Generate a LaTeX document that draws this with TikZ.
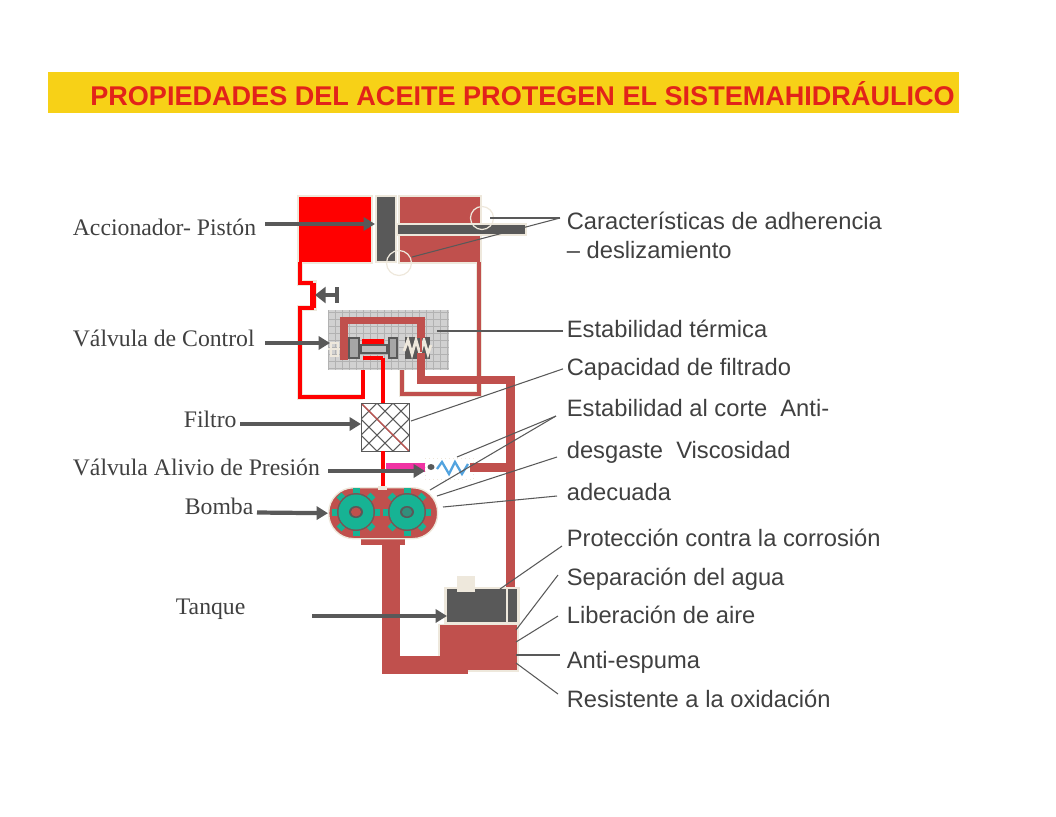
\documentclass[tikz,border=0pt]{standalone}
\usepackage{fontspec}
\setmainfont{Liberation Serif}
\newfontfamily\sansfam{Liberation Sans}
\usetikzlibrary{arrows.meta}
\definecolor{ltitle}{HTML}{E2231A}
\definecolor{lband}{HTML}{F7D117}
\definecolor{lbrown}{HTML}{C0504D}
\definecolor{ldark}{HTML}{595959}
\definecolor{lcream}{HTML}{EEE8DC}
\definecolor{lteal}{HTML}{17B394}
\definecolor{ltext}{HTML}{404040}

\begin{document}
\begin{tikzpicture}[x=0.02cm,y=-0.02cm,
lleft/.style={anchor=base west,inner sep=2pt,font=\fontsize{13.5}{15}\selectfont,text=ltext},
lright/.style={anchor=base west,inner sep=2pt,font=\sansfam\fontsize{13.5}{15}\selectfont,text=ltext},
callout/.style={draw=ldark,line width=2.4pt,-{Triangle[length=6.5pt,width=7.5pt]}},
leader/.style={draw=ldark,line width=.6pt},
pipe/.style={draw=lbrown,line width=#1,line cap=butt,line join=miter},
redpipe/.style={draw=red,line width=#1,line cap=butt,line join=miter},
hull/.style={fill=#1,draw=lcream,line width=1.2pt}]
\useasboundingbox (0,0) rectangle (1056,816);

% title
\node (band) [fill=lband,minimum width=18.22cm,minimum height=.82cm,inner sep=0,anchor=north west] at (48,72) {};
\node (title) [anchor=base west,inner sep=0,font=\sansfam\bfseries\fontsize{15.4}{18}\selectfont,text=ltitle] at (90,105) {PROPIEDADES DEL ACEITE PROTEGEN EL SISTEMAHIDRÁULICO};

% cylinder
\draw [hull=red] (298,196) rectangle (372,263);
\draw [hull=lbrown] (399,196) rectangle (481,263);
\draw [draw=lcream,line width=1.2pt,fill=ldark] (376,196) rectangle (396,262);
\draw [draw=lcream,line width=1.2pt,fill=ldark] (397,224) rectangle (526,235);
\node (circa) [circle,draw=lcream,line width=.7pt,minimum size=.46cm,inner sep=0] at (482,218) {};
\node (circb) [circle,draw=lcream,line width=.7pt,minimum size=.5cm,inner sep=0] at (399,263) {};

% lines round the valve
\draw [draw=lcream,line width=3.2pt] (300,264) -- (300,283) -- (314,283) -- (314,308) -- (300,308) -- (300,397) -- (363,397);
\draw [draw=lcream,line width=3.2pt] (479,263) -- (479,394) -- (402,394) -- (402,350);
\draw [redpipe=2pt] (300,262) -- (300,283) -- (313,283);
\draw [redpipe=3pt] (313,283) -- (313,308);
\draw [redpipe=2pt] (314,308) -- (300,308) -- (300,397) -- (363,397) -- (363,357);
\draw [pipe=2pt] (479,262) -- (479,394) -- (402,394) -- (402,340);

% accumulator stop
\coordinate (stopb) at (338,295);
\coordinate (stopa) at (315,295);
\draw [draw=ldark,line width=2.4pt,-{Triangle[length=6pt,width=9pt]}] (stopb) -- (stopa);
\draw [draw=ldark,line width=2.8pt] (337,287) -- (337,303);

% valve block
\fill [fill=black!18] (328,310) rectangle (449,370);
\foreach \i in {0,...,17} {\draw [black!30,line width=.25pt] (328+\i*7,310) -- (328+\i*7,370);}
\foreach \i in {0,...,8} {\draw [black!30,line width=.25pt] (328,312+\i*7) -- (449,312+\i*7);}
\node (valve) [minimum width=2.42cm,minimum height=1.2cm,inner sep=0,anchor=north west] at (328,310) {};
\fill [fill=ldark] (348,337) rectangle (360,359);
\fill [fill=gray!70] (350,339) rectangle (358,357);
\fill [fill=ldark] (388,337) rectangle (398,359);
\fill [fill=gray!70] (390,339) rectangle (396,357);
\fill [fill=ldark] (360,344) rectangle (388,354);
\fill [fill=gray!50] (362,346) rectangle (386,352);
\fill [fill=ldark] (405,337) rectangle (430,359);
\draw [draw=lcream,line width=1.6pt] (331,343) rectangle (338,356);
\draw [draw=lcream,line width=1.6pt] (328,349) -- (341,349);
\draw [draw=lcream,line width=1.6pt] (404,351) -- (408,340) -- (412,354) -- (416,340) -- (420,354) -- (424,340) -- (428,354) -- (431,345);
\draw [pipe=4.5pt] (344,360) -- (344,320.5) -- (421,320.5) -- (421,338);
\draw [pipe=.7pt] (421,318) -- (421,352);
\fill [fill=red] (362,339) rectangle (384,344);
\draw [redpipe=2pt] (363,358) -- (383,358);
\draw [redpipe=2pt] (383,358) -- (383,404);
\draw [pipe=4.7pt] (421,353) -- (421,380) -- (510.5,380) -- (510.5,600);

% filter
\begin{scope}
\clip (361,403) rectangle (409,451);
\foreach \k in {-2,...,2} {
  \draw [draw=ldark,line width=.6pt] (361+\k*16,403) -- (409+\k*16,451);
  \draw [draw=ldark,line width=.6pt] (409+\k*16,403) -- (361+\k*16,451);
}
\draw [draw=lbrown,line width=.7pt] (361,403) -- (409,451);
\end{scope}
\node (filtro) [draw=ldark,line width=.7pt,minimum size=.96cm,inner sep=0,anchor=north west] at (361,403) {};

% relief valve
\draw [redpipe=2.2pt] (383,451) -- (383,490);
\fill [fill=magenta!80!white] (386,463) rectangle (425,472);
\node (relief) [draw=lcream,line width=.3pt,dotted,minimum width=.96cm,minimum height=.42cm,inner sep=0,anchor=north west] at (425,458) {};
\fill [fill=ldark] (431,467) ellipse (3.5 and 3);
\draw [draw=cyan!70!blue!70,line width=1.3pt] (437,469) -- (442,462) -- (449,474) -- (455,462) -- (462,474) -- (468,464);
\draw [pipe=5pt] (470,467.5) -- (510,467.5);

% pump
\fill [fill=lbrown] (361,535) rectangle (405,545);
\node (pump) [draw=lcream,line width=.8pt,fill=lbrown,rounded corners=.5cm,minimum width=2.18cm,minimum height=1.02cm,inner sep=0,anchor=north west] at (328,487) {};
\fill [fill=lcream] (378,486) rectangle (387,490);
\foreach \cx/\hub in {356/lbrown,407/lteal!60!ldark} {
  \foreach \a in {0,45,...,315} {
    \fill [fill=lteal,rotate around={\a:(\cx,512)}] (\cx-3.5,488) rectangle (\cx+3.5,495);
  }
  \fill [fill=ldark!70!lbrown] (\cx,512) circle (.38cm);
  \fill [fill=lteal] (\cx,512) circle (.35cm);
  \fill [fill=ldark] (\cx,512) ellipse (7 and 6);
  \fill [fill=\hub] (\cx,512) ellipse (5 and 4.5);
}

% return line and tank
\fill [fill=lcream] (444,587) rectangle (520,624);
\fill [fill=lcream] (438,624) rectangle (519,672);
\fill [fill=lbrown] (382,545) rectangle (400,656);
\fill [fill=lbrown] (382,656) rectangle (468,674);
\fill [fill=lbrown] (440,625) rectangle (517,670);
\fill [fill=ldark] (447,589) rectangle (517,622);
\draw [draw=lcream,line width=.7pt] (507,589) -- (507,622);
\fill [fill=lcream] (457,576) rectangle (475,592);
\node (tank) [minimum width=1.4cm,minimum height=.66cm,inner sep=0,anchor=north west] at (447,589) {};

% left labels and their arrows
\node (lblact) [lleft] at (69,235) {Accionador- Pistón};
\node (lblctl) [lleft] at (69,346) {Válvula de Control};
\node (lblfil) [lleft] at (180,427) {Filtro};
\node (lblrel) [lleft] at (69,475) {Válvula Alivio de Presión};
\node (lblpum) [lleft] at (181,514) {Bomba};
\node (lbltan) [lleft] at (172,614) {Tanque};
\coordinate (fromact) at (265,224);
\coordinate (toact) at (375,224);
\coordinate (fromctl) at (265,343);
\coordinate (toctl) at (330,343);
\coordinate (fromfil) at (240,424);
\coordinate (tofil) at (361,424);
\coordinate (fromrel) at (328,471);
\coordinate (torel) at (425,471);
\coordinate (frompum) at (257,512.5);
\coordinate (fromtan) at (312,616);
\coordinate (totan) at (447,616);
\draw [callout] (fromact) -- (toact);
\draw [callout] (fromctl) -- (toctl);
\draw [callout] (fromfil) -- (tofil);
\draw [callout] (fromrel) -- (torel);
\draw [callout] (frompum) -- (pump.west);
\draw [callout] (fromtan) -- (totan);

% right labels
\node (lbladh) [lright] at (563,229) {Características de adherencia};
\node (lbldes) [lright] at (563,258) {– deslizamiento};
\node (lblter) [lright] at (563,337) {Estabilidad térmica};
\node (lblcap) [lright] at (563,375) {Capacidad de filtrado};
\node (lblcor) [lright] at (563,416) {Estabilidad al corte\ \ Anti-};
\node (lblvis) [lright] at (563,458) {desgaste\ \ Viscosidad};
\node (lblade) [lright] at (563,500) {adecuada};
\node (lblpro) [lright] at (563,546) {Protección contra la corrosión};
\node (lblsep) [lright] at (563,585) {Separación del agua};
\node (lbllib) [lright] at (563,623) {Liberación de aire};
\node (lblesp) [lright] at (563,668) {Anti-espuma};
\node (lblres) [lright] at (563,707) {Resistente a la oxidación};

% leaders
\coordinate (hubadh) at (560,218);
\coordinate (hubcor) at (556,416);
\coordinate (hubvis) at (557,457);
\coordinate (hubade) at (557,496);
\coordinate (hubpro) at (562,546);
\coordinate (hubsep) at (558,575);
\coordinate (hublib) at (558,616);
\coordinate (hubesp) at (560,655);
\coordinate (hubres) at (558,694);
\coordinate (endrod) at (490,218);
\coordinate (endpis) at (412,257);
\coordinate (endter) at (437,331);
\coordinate (endfil) at (411,421);
\coordinate (endrel) at (457,457);
\coordinate (endpa) at (430,490);
\coordinate (endpb) at (437,496);
\coordinate (endpc) at (443,507);
\coordinate (endtpro) at (500,589);
\coordinate (endtsep) at (516,630);
\coordinate (endtlib) at (516,642);
\coordinate (endtesp) at (516,655);
\coordinate (endtres) at (516,663);
\draw [leader] (hubadh) -- (endrod);
\draw [leader] (hubadh) -- (endpis);
\draw [leader] (lblter.west |- endter) -- (endter);
\draw [leader] (lblcap.west) -- (endfil);
\draw [leader] (hubcor) -- (endrel);
\draw [leader] (hubcor) -- (endpa);
\draw [leader] (hubvis) -- (endpb);
\draw [leader] (hubade) -- (endpc);
\draw [leader] (hubpro) -- (endtpro);
\draw [leader] (hubsep) -- (endtsep);
\draw [leader] (hublib) -- (endtlib);
\draw [leader] (hubesp) -- (endtesp);
\draw [leader] (hubres) -- (endtres);
\end{tikzpicture}
\end{document}
